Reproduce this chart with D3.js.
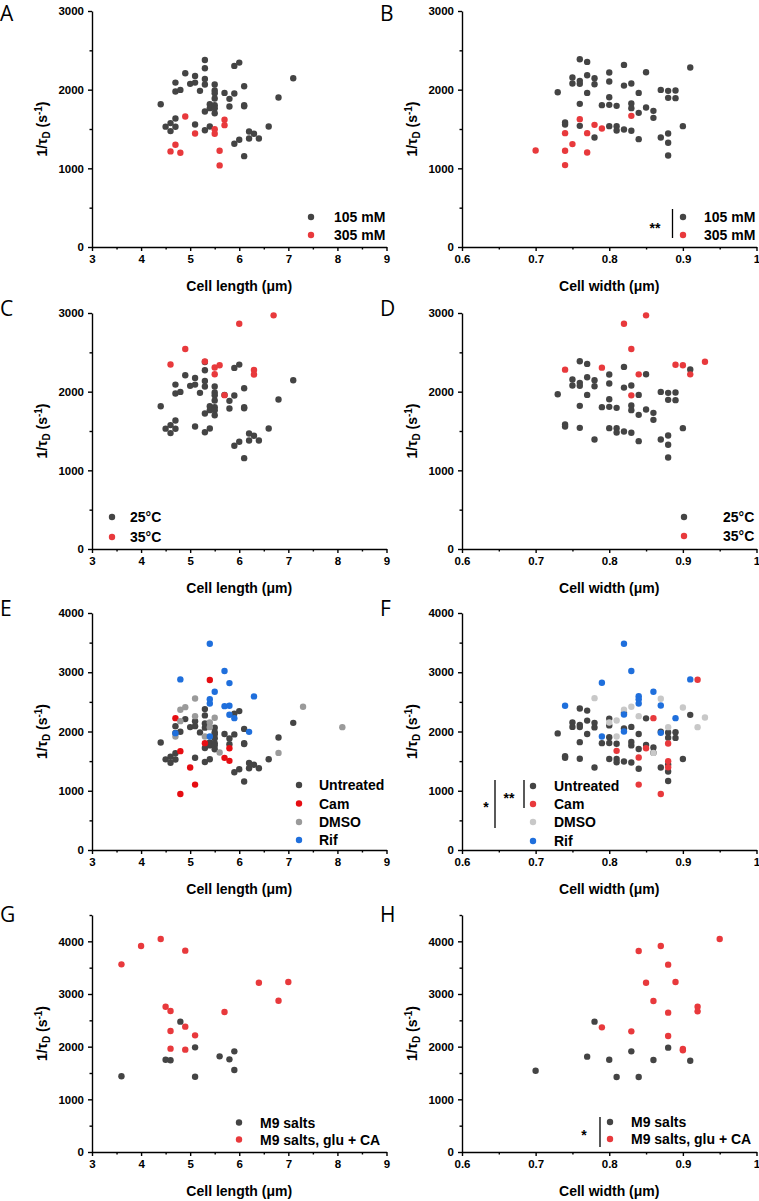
<!DOCTYPE html>
<html>
<head>
<meta charset="utf-8">
<script src="https://cdn.jsdelivr.net/npm/d3@7"></script>
<style>
  body { margin: 0; background: #fff; }
  svg { display: block; }
  .axis path, .axis line { stroke: #000; stroke-width: 1.4; }
  .title { font-family: "Liberation Sans", Arial, sans-serif; font-weight: bold; font-size: 14px; fill: #000; }
  .legend { font-family: "Liberation Sans", Arial, sans-serif; font-weight: bold; font-size: 14px; fill: #000; }
  .letter { font-family: "Open Sans", sans-serif; font-size: 21px; fill: #000; }
</style>
</head>
<body>
<svg id="chart"></svg>
<script>
// untreated / 105 mM / 25°C cells, length vs 1/tauD
const baseLength = [[4.4,1815],[4.5,1530],[4.6,1575],[4.6,1473],[4.7,2090],[4.7,1976],[4.7,1634],[4.7,1528],
  [4.8,1997],[4.9,2209],[5.0,2074],[5.1,2175],[5.1,2090],[5.1,1557],[5.2,1985],[5.3,2378],[5.3,2272],[5.3,2137],
  [5.3,2065],[5.3,1722],[5.3,1485],[5.4,1815],[5.4,1765],[5.4,1532],[5.5,2065],[5.5,1989],[5.5,1955],[5.5,1887],
  [5.5,1803],[5.5,1765],[5.5,1701],[5.7,1959],[5.8,1883],[5.8,1786],[5.9,2302],[5.9,1951],[5.9,1312],[6.0,2344],
  [6.0,1363],[6.1,2044],[6.1,1803],[6.1,1790],[6.1,1155],[6.2,1468],[6.2,1380],[6.3,1439],[6.4,1380],[6.6,1532],
  [6.8,1900],[7.1,2146]];
// same cells, width vs 1/tauD
const baseWidth = [[0.73,1968],[0.74,1583],[0.74,1557],[0.75,2154],[0.75,2078],[0.76,2112],[0.76,2074],[0.76,2387],
  [0.76,1820],[0.76,1540],[0.77,2353],[0.77,2184],[0.77,1959],[0.78,2146],[0.78,2069],[0.78,1392],[0.79,1803],
  [0.80,2218],[0.80,2103],[0.80,1904],[0.80,1807],[0.80,1536],[0.81,1794],[0.81,1536],[0.81,1481],[0.82,2315],
  [0.82,2052],[0.82,1494],[0.83,2078],[0.83,1824],[0.83,1765],[0.83,1477],[0.84,1959],[0.84,1705],[0.84,1371],
  [0.85,2222],[0.85,1773],[0.86,1731],[0.86,1642],[0.87,1997],[0.87,1392],[0.88,1985],[0.88,1896],[0.88,1443],
  [0.88,1325],[0.88,1164],[0.89,1989],[0.89,1892],[0.90,1536],[0.91,2281]];

const osmoLength = [[4.9,1659],[4.7,1299],[4.6,1215],[4.8,1198],[5.1,1443],[5.5,1498],[5.5,1439],[5.7,1617],
  [5.7,1549],[5.6,1223],[5.6,1037]];
const osmoWidth = [[0.70,1227],[0.74,1447],[0.74,1223],[0.74,1041],[0.75,1308],[0.76,1625],[0.77,1447],[0.77,1202],
  [0.78,1553],[0.79,1507],[0.83,1667]];

const warmLength = [[4.6,2345],[4.9,2543],[5.3,2383],[5.5,2307],[5.5,2222],[5.6,2336],[5.7,1956],[6.0,2864],
  [6.3,2277],[6.3,2218],[6.7,2970]];
const warmWidth = [[0.74,2280],[0.79,2305],[0.82,2864],[0.83,2542],[0.83,1953],[0.84,2220],[0.85,2970],[0.89,2343],
  [0.90,2335],[0.91,2220],[0.93,2381]];

const camLength = [[4.7,2225],[4.8,1668],[4.8,946],[5.0,1392],[5.1,1104],[5.3,1803],[5.4,2868],[5.7,1555],
  [5.8,1718],[5.8,1504]];
const camWidth = [[0.81,1673],[0.84,1561],[0.84,1104],[0.85,1718],[0.86,2225],[0.87,946],[0.88,1797],[0.88,1499],
  [0.88,1397],[0.92,2873]];
const dmsoLength = [[4.7,1915],[4.8,2366],[4.8,2175],[4.9,2411],[5.1,2558],[5.1,2259],[5.3,1915],[5.4,2152],
  [5.4,2073],[5.5,2231],[5.6,1645],[6.8,1639],[7.3,2417],[8.1,2073]];
const dmsoWidth = [[0.78,2563],[0.80,2152],[0.81,2186],[0.81,1915],[0.82,2366],[0.83,2417],[0.84,2259],[0.86,1639],
  [0.87,2552],[0.88,2073],[0.90,2406],[0.92,2073],[0.93,2237]];
const rifLength = [[4.8,2879],[4.7,1972],[5.4,3482],[5.4,2546],[5.4,2473],[5.4,1915],[5.5,2670],[5.7,3020],
  [5.7,2428],[5.8,2817],[5.8,2434],[5.8,2282],[5.9,2225],[6.2,1994],[6.3,2592]];
const rifWidth = [[0.74,2434],[0.79,2822],[0.79,1915],[0.82,3482],[0.82,2287],[0.82,2000],[0.83,3020],[0.84,2597],
  [0.84,2546],[0.84,2473],[0.86,2670],[0.87,2439],[0.87,1977],[0.89,2225],[0.91,2879]];

const m9Length = [[3.6,1437],[4.5,1753],[4.6,1741],[4.8,2475],[5.1,1987],[5.1,1430],[5.6,1816],[5.8,1759],
  [5.9,1911],[5.9,1557]];
const m9Width = [[0.70,1544],[0.77,1810],[0.78,2475],[0.80,1753],[0.81,1424],[0.83,1911],[0.84,1424],[0.86,1747],
  [0.88,1981],[0.91,1734]];
const richLength = [[3.6,3563],[4.0,3911],[4.4,4044],[4.9,3823],[4.5,2759],[4.6,2677],[4.6,2297],[4.6,1962],
  [4.9,2380],[4.9,1943],[5.1,2215],[5.7,2658],[6.4,3215],[6.8,2873],[7.0,3228]];
const richWidth = [[0.79,2367],[0.83,2291],[0.84,3816],[0.85,3215],[0.86,2867],[0.87,3911],[0.88,3557],[0.88,2646],
  [0.88,2203],[0.89,3228],[0.90,1956],[0.90,1930],[0.92,2759],[0.92,2671],[0.95,4044]];

// tick labels
const lengthTicks = [3, 4, 5, 6, 7, 8, 9];
const widthTicks = [0.6, 0.7, 0.8, 0.9, 1.0];
const yTicks3000 = [0, 1000, 2000, 3000];
const yTicks4000 = [0, 1000, 2000, 3000, 4000];

const gray = "#444444", red = "#e8393c", pureRed = "#e60d12", midGray = "#9a9a9a", lightGray = "#c8c8c8", blue = "#1f6fdc";

const W = 759, H = 1201;
const svg = d3.select("#chart").attr("width", W).attr("height", H);
svg.append("rect").attr("width", W).attr("height", H).attr("fill", "#fff");

const colX = [92, 462], plotW = 294.5;
const rows = [{ top: 11, bottom: 247, letterY: 21 }, { top: 313, bottom: 549, letterY: 316 },
  { top: 613, bottom: 850, letterY: 616 }, { top: 915, bottom: 1152, letterY: 922 }];

const panels = [
  { letter: "A", col: 0, row: 0, kind: "length", yMax: 3000, yt: yTicks3000,
    series: [{ data: baseLength, color: gray, label: "105 mM" }, { data: osmoLength, color: red, label: "305 mM" }],
    legend: { dotX: 311, textX: 334, y: [217, 235] } },
  { letter: "B", col: 1, row: 0, kind: "width", yMax: 3000, yt: yTicks3000,
    series: [{ data: baseWidth, color: gray, label: "105 mM" }, { data: osmoWidth, color: red, label: "305 mM" }],
    legend: { dotX: 683, textX: 704, y: [217, 235] },
    sig: [{ text: "**", x: 655, y: 224, barX: 672.5, y1: 209, y2: 238 }] },
  { letter: "C", col: 0, row: 1, kind: "length", yMax: 3000, yt: yTicks3000,
    series: [{ data: baseLength, color: gray, label: "25°C" }, { data: warmLength, color: red, label: "35°C" }],
    legend: { dotX: 112, textX: 130, y: [517, 537] } },
  { letter: "D", col: 1, row: 1, kind: "width", yMax: 3000, yt: yTicks3000,
    series: [{ data: baseWidth, color: gray, label: "25°C" }, { data: warmWidth, color: red, label: "35°C" }],
    legend: { dotX: 684, textX: 723, y: [517, 536] } },
  { letter: "E", col: 0, row: 2, kind: "length", yMax: 4000, yt: yTicks4000,
    series: [{ data: baseLength, color: gray, label: "Untreated" }, { data: camLength, color: pureRed, label: "Cam" },
      { data: dmsoLength, color: midGray, label: "DMSO" }, { data: rifLength, color: blue, label: "Rif" }],
    legend: { dotX: 299, textX: 319, y: [785, 803.5, 822, 840] } },
  { letter: "F", col: 1, row: 2, kind: "width", yMax: 4000, yt: yTicks4000,
    series: [{ data: baseWidth, color: gray, label: "Untreated" }, { data: camWidth, color: red, label: "Cam" },
      { data: dmsoWidth, color: lightGray, label: "DMSO" }, { data: rifWidth, color: blue, label: "Rif" }],
    legend: { dotX: 533, textX: 554, y: [786, 804, 822, 841] },
    sig: [{ text: "*", x: 486, y: 803, barX: 495, y1: 780, y2: 828 },
      { text: "**", x: 509, y: 794, barX: 524, y1: 780, y2: 808 }] },
  { letter: "G", col: 0, row: 3, kind: "length", yMax: 4500, yt: yTicks4000,
    series: [{ data: m9Length, color: gray, label: "M9 salts" }, { data: richLength, color: red, label: "M9 salts, glu + CA" }],
    legend: { dotX: 239, textX: 260, y: [1122.5, 1139.5] } },
  { letter: "H", col: 1, row: 3, kind: "width", yMax: 4500, yt: yTicks4000,
    series: [{ data: m9Width, color: gray, label: "M9 salts" }, { data: richWidth, color: red, label: "M9 salts, glu + CA" }],
    legend: { dotX: 610, textX: 631, y: [1122, 1139] },
    sig: [{ text: "*", x: 584, y: 1131, barX: 600, y1: 1117, y2: 1147 }] }
];

panels.forEach(drawPanel);

function styleTicks(sel) {
  sel.attr("font-family", "'Liberation Sans', Arial, sans-serif")
    .attr("font-size", 11.5)
    .attr("font-weight", "bold");
  sel.selectAll(".tick text").attr("fill", "#000");
}

function drawPanel(p) {
  const r = rows[p.row];
  const left = colX[p.col];
  const isLen = p.kind === "length";
  const x = d3.scaleLinear().domain(isLen ? [3, 9] : [0.6, 1]).range([left, left + plotW]);
  const y = d3.scaleLinear().domain([0, p.yMax]).range([r.bottom, r.top]);
  const g = svg.append("g");

  // minor ticks
  const xMinor = isLen ? d3.range(3.5, 9, 1) : [0.65, 0.75, 0.85, 0.95];
  const yMinor = d3.range(500, p.yMax + 1, 1000);
  g.append("g").attr("class", "axis").attr("transform", `translate(0,${r.bottom})`)
    .call(d3.axisBottom(x).tickValues(xMinor).tickSize(2.5).tickSizeOuter(0).tickFormat(""))
    .select(".domain").remove();
  g.append("g").attr("class", "axis").attr("transform", `translate(${left},0)`)
    .call(d3.axisLeft(y).tickValues(yMinor).tickSize(2.5).tickSizeOuter(0).tickFormat(""))
    .select(".domain").remove();

  // major axes
  g.append("g").attr("class", "axis").attr("transform", `translate(0,${r.bottom})`)
    .call(d3.axisBottom(x).tickValues(isLen ? lengthTicks : widthTicks).tickSize(4).tickSizeOuter(0).tickPadding(4)
      .tickFormat(d => isLen ? String(d) : (d === 1 ? "1" : d.toFixed(1))))
    .call(styleTicks);
  g.append("g").attr("class", "axis").attr("transform", `translate(${left},0)`)
    .call(d3.axisLeft(y).tickValues(p.yt).tickSize(4).tickSizeOuter(0).tickPadding(4).tickFormat(d3.format("d")))
    .call(styleTicks);

  // axis titles
  g.append("text").attr("class", "title").attr("x", left + plotW / 2).attr("y", r.bottom + 44)
    .attr("text-anchor", "middle").text(isLen ? "Cell length (μm)" : "Cell width (μm)");
  const yt = g.append("text").attr("class", "title").attr("text-anchor", "middle")
    .attr("transform", `translate(${left - 45},${(r.top + r.bottom) / 2}) rotate(-90)`);
  yt.append("tspan").text("1/τ");
  yt.append("tspan").attr("baseline-shift", "-25%").attr("font-size", "10px").text("D");
  yt.append("tspan").text(" (s");
  yt.append("tspan").attr("baseline-shift", "super").attr("font-size", "10px").text("-1");
  yt.append("tspan").text(")");

  // panel letter
  svg.append("text").attr("class", "letter").attr("x", p.col === 0 ? 0 : 380).attr("y", r.letterY).text(p.letter);

  // points
  p.series.forEach(s => {
    g.append("g").selectAll("circle").data(s.data).enter().append("circle")
      .attr("cx", d => x(d[0])).attr("cy", d => y(d[1])).attr("r", 3.2).attr("fill", s.color);
  });

  // legend
  p.series.forEach((s, i) => {
    g.append("circle").attr("cx", p.legend.dotX).attr("cy", p.legend.y[i]).attr("r", 3.2).attr("fill", s.color);
    g.append("text").attr("class", "legend").attr("x", p.legend.textX).attr("y", p.legend.y[i] + 5).text(s.label);
  });

  // significance brackets
  (p.sig || []).forEach(s => {
    g.append("line").attr("x1", s.barX).attr("x2", s.barX).attr("y1", s.y1).attr("y2", s.y2)
      .attr("stroke", "#000").attr("stroke-width", 1.3);
    g.append("text").attr("class", "legend").attr("x", s.x).attr("y", s.y + 9)
      .attr("text-anchor", "middle").attr("font-size", "16px").text(s.text);
  });
}
</script>
</body>
</html>
